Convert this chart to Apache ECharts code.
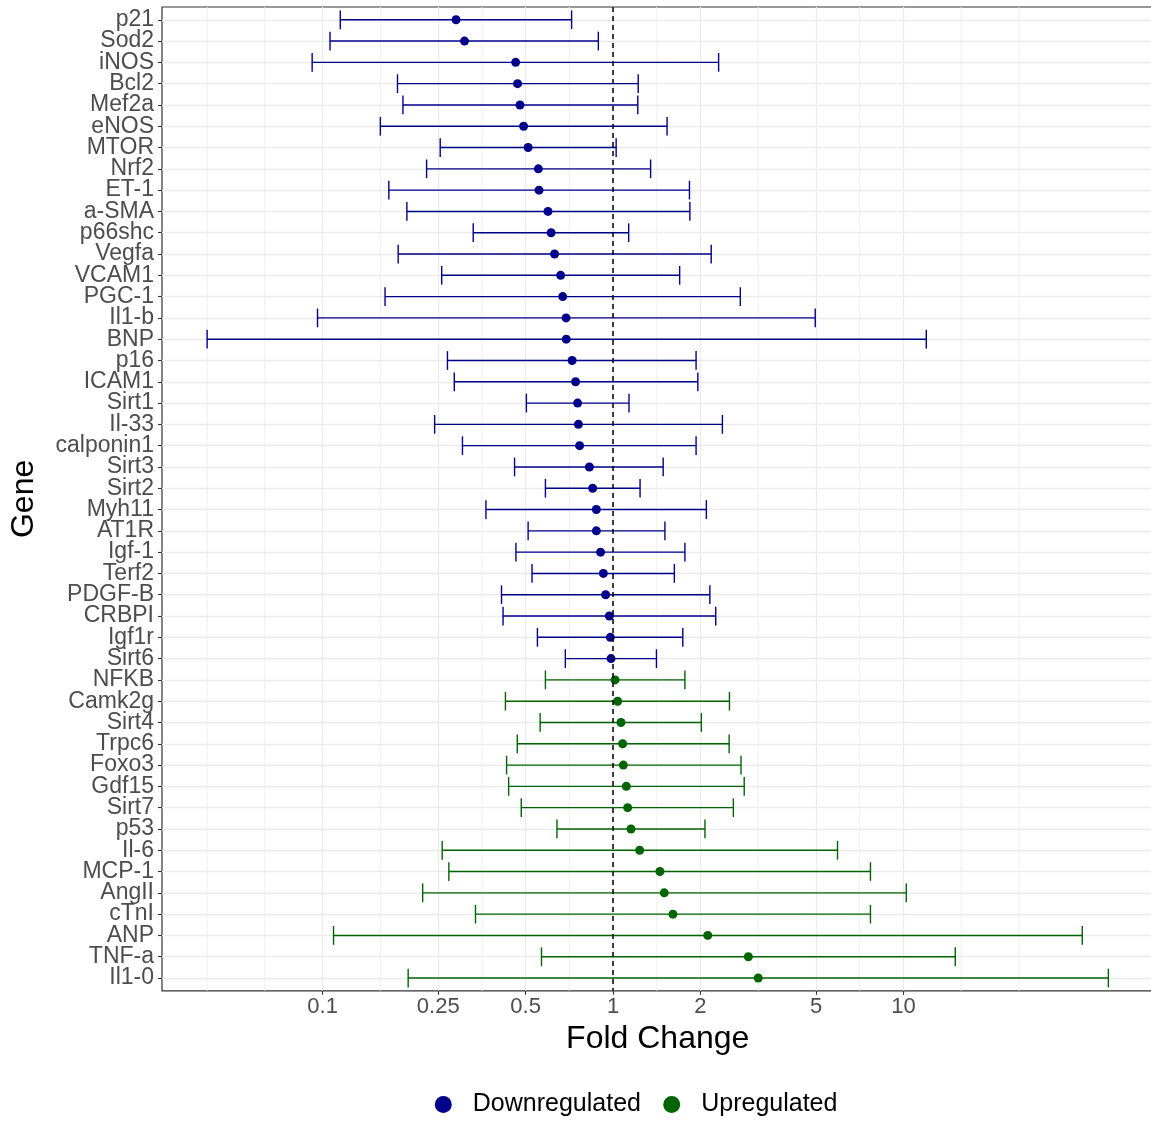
<!DOCTYPE html>
<html><head><meta charset="utf-8">
<script src="https://cdn.jsdelivr.net/npm/echarts@6/dist/echarts.min.js"></script>
<style>html,body{margin:0;padding:0;background:#fff}#chart{width:1151px;height:1122px}</style>
</head><body><div id="chart"></div>
<script>
const genes = ['p21','Sod2','iNOS','Bcl2','Mef2a','eNOS','MTOR','Nrf2','ET-1','a-SMA','p66shc','Vegfa','VCAM1','PGC-1','Il1-b','BNP','p16','ICAM1','Sirt1','Il-33','calponin1','Sirt3','Sirt2','Myh11','AT1R','Igf-1','Terf2','PDGF-B','CRBPI','Igf1r','Sirt6','NFKB','Camk2g','Sirt4','Trpc6','Foxo3','Gdf15','Sirt7','p53','Il-6','MCP-1','AngII','cTnI','ANP','TNF-a','Il1-0'];
const foldChange = [0.288,0.308,0.462,0.469,0.478,0.492,0.510,0.553,0.556,0.597,0.612,0.629,0.660,0.671,0.689,0.690,0.723,0.743,0.755,0.760,0.767,0.829,0.851,0.876,0.876,0.906,0.926,0.943,0.971,0.979,0.984,1.016,1.037,1.065,1.079,1.085,1.111,1.123,1.153,1.235,1.450,1.501,1.608,2.119,2.924,3.162];
const ciLower = [0.115,0.106,0.092,0.181,0.189,0.158,0.254,0.228,0.169,0.195,0.330,0.182,0.257,0.164,0.096,0.040,0.269,0.284,0.503,0.243,0.303,0.458,0.585,0.365,0.510,0.463,0.526,0.413,0.418,0.549,0.685,0.585,0.426,0.561,0.468,0.430,0.437,0.483,0.641,0.258,0.272,0.221,0.336,0.109,0.567,0.197];
const ciUpper = [0.720,0.890,2.31,1.221,1.217,1.535,1.025,1.347,1.833,1.839,1.132,2.178,1.696,2.744,4.97,11.99,1.932,1.959,1.135,2.380,1.932,1.488,1.239,2.096,1.509,1.768,1.626,2.155,2.258,1.739,1.411,1.768,2.517,2.014,2.511,2.759,2.830,2.596,2.073,5.93,7.70,10.23,7.70,41.3,15.09,50.8];
const xTickValues = [0.1,0.25,0.5,1,2,5,10];
const xTickLabels = ['0.1','0.25','0.5','1','2','5','10'];
const xMinorGrid = [0.04,0.0632,0.158,0.354,0.707,1.414,3.162,7.071,15.81,25];
const groupNames = ['Downregulated','Upregulated'];
const groupColors = ['#00008B','#006400'];
const referenceLine = 1;
const xMin = 0.02797, xMax = 72.6;

const rowIdx = genes.map((g, i) => i);
const evenRows = rowIdx.filter(i => i % 2 === 0);
const oddRows = rowIdx.filter(i => i % 2 === 1);
const groupRows = [rowIdx.filter(i => foldChange[i] < 1), rowIdx.filter(i => foldChange[i] >= 1)];

const series = [];
// minor vertical grid lines (drawn under the data)
series.push({
  type: 'custom', name: 'minor-grid', silent: true, z: 0, clip: false,
  data: xMinorGrid.map(v => [v, 0]),
  encode: { x: 0, y: 1 },
  renderItem: (params, api) => {
    const x = api.coord([api.value(0), 0])[0];
    const cs = params.coordSys;
    return { type: 'line', shape: { x1: x, y1: cs.y, x2: x, y2: cs.y + cs.height },
      style: { stroke: '#EDEDED', lineWidth: 0.9 } };
  }
});
groupNames.forEach((name, g) => {
  const color = groupColors[g];
  series.push({
    type: 'custom', name: 'ci-' + name, silent: true, z: 2,
    data: groupRows[g].map(i => [ciLower[i], i, ciUpper[i]]),
    encode: { x: [0, 2], y: 1 },
    renderItem: (params, api) => {
      const y = api.value(1);
      const a = api.coord([api.value(0), y]);
      const b = api.coord([api.value(2), y]);
      const h = api.size([0, 1], [1, y])[1] * 0.44;
      const style = { stroke: color, lineWidth: 1.4 };
      return { type: 'group', children: [
        { type: 'line', shape: { x1: a[0], y1: a[1], x2: b[0], y2: b[1] }, style },
        { type: 'line', shape: { x1: a[0], y1: a[1] - h, x2: a[0], y2: a[1] + h }, style },
        { type: 'line', shape: { x1: b[0], y1: b[1] - h, x2: b[0], y2: b[1] + h }, style }
      ]};
    }
  });
  series.push({
    type: 'scatter', name: name, z: 3, symbol: 'circle', symbolSize: 9,
    itemStyle: { color: color, opacity: 1 },
    data: groupRows[g].map(i => [foldChange[i], i])
  });
});
series.push({
  type: 'line', name: 'ref', data: [], z: 5,
  markLine: { silent: true, symbol: 'none', label: { show: false },
    lineStyle: { color: '#000', type: [5, 4], width: 1.5 },
    data: [{ xAxis: referenceLine }] }
});

const yLabelStyle = { color: '#4D4D4D', fontSize: 23, margin: 8, showMinLabel: true, showMaxLabel: true, hideOverlap: false,
  formatter: v => genes[Math.round(v)] };
const yBase = { type: 'value', inverse: true, min: -0.6, max: genes.length - 0.4, position: 'left', offset: 0 };

const chart = echarts.init(document.getElementById('chart'));
chart.setOption({
  animation: false,
  backgroundColor: '#fff',
  textStyle: { fontFamily: 'Liberation Sans, Arial, sans-serif' },
  grid: { left: 162, right: -2.4, top: 7, bottom: 131.2, show: true, borderColor: '#333', borderWidth: 1.2, backgroundColor: '#fff', outerBoundsMode: 'none', containLabel: false },
  legend: [
    { data: [groupNames[0]], left: 429.8, top: 1087, icon: 'circle', itemWidth: 17, itemHeight: 17, selectedMode: false,
      itemStyle: { opacity: 1 }, textStyle: { fontSize: 25, color: '#000', padding: [0, 0, 0, 16] } },
    { data: [groupNames[1]], left: 658.2, top: 1087, icon: 'circle', itemWidth: 17, itemHeight: 17, selectedMode: false,
      itemStyle: { opacity: 1 }, textStyle: { fontSize: 25, color: '#000', padding: [0, 0, 0, 16] } }
  ],
  xAxis: {
    type: 'log', min: xMin, max: xMax, position: 'bottom',
    axisLine: { show: false, onZero: false },
    axisTick: { show: true, inside: false, length: 4, lineStyle: { color: '#333', width: 1.1 }, customValues: xTickValues },
    axisLabel: { customValues: xTickValues, color: '#4D4D4D', fontSize: 22, margin: 5, showMinLabel: true, showMaxLabel: true,
      formatter: v => { const k = xTickValues.findIndex(t => Math.abs(t - v) < 1e-6 * t); return k >= 0 ? xTickLabels[k] : ''; } },
    splitLine: { show: true, lineStyle: { color: '#EBEBEB', width: 1.2 } },
    minorTick: { show: false }, minorSplitLine: { show: false },
    name: 'Fold Change', nameLocation: 'middle', nameGap: 29, nameTextStyle: { color: '#000', fontSize: 32 }
  },
  yAxis: [
    Object.assign({}, yBase, {
      axisLine: { show: false, onZero: false },
      axisTick: { show: true, inside: false, length: 4, lineStyle: { color: '#333', width: 1.1 }, customValues: rowIdx },
      axisLabel: Object.assign({ customValues: evenRows }, yLabelStyle),
      splitLine: { show: true, lineStyle: { color: '#EBEBEB', width: 1.3 } },
      name: 'Gene', nameLocation: 'middle', nameGap: 122, nameRotate: 90, nameTextStyle: { color: '#000', fontSize: 32 }
    }),
    Object.assign({}, yBase, {
      axisLine: { show: false, onZero: false },
      axisTick: { show: false, customValues: oddRows },
      axisLabel: Object.assign({ customValues: oddRows }, yLabelStyle),
      splitLine: { show: false }
    })
  ],
  series: series
});
</script></body></html>
